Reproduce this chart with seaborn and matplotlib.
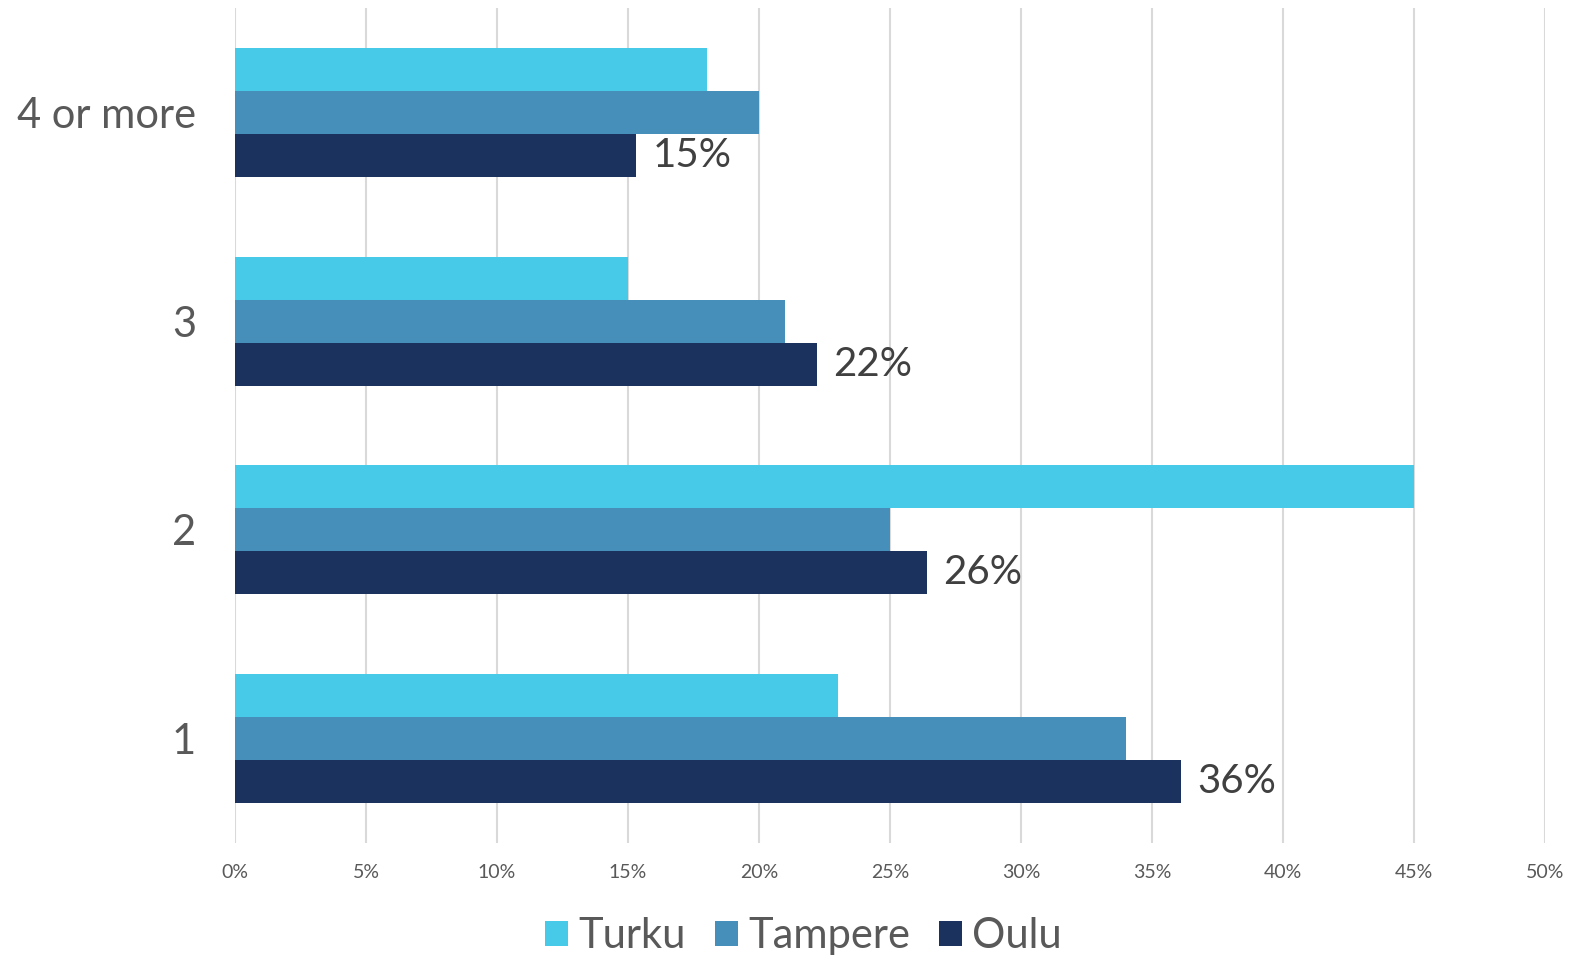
import matplotlib
matplotlib.use("Agg")
import matplotlib.pyplot as plt
import seaborn as sns
import pandas as pd
from matplotlib.patches import Patch

categories = ["4 or more", "3", "2", "1"]
series = ["Turku", "Tampere", "Oulu"]
turku = [18.0, 15.0, 45.0, 23.0]
tampere = [20.0, 21.0, 25.0, 34.0]
oulu = [15.3, 22.2, 26.4, 36.1]
xticks = [0, 5, 10, 15, 20, 25, 30, 35, 40, 45, 50]
colors = ["#46CAE8", "#468FBA", "#1B325F"]

rows = []
for name, vals in zip(series, [turku, tampere, oulu]):
    for c, v in zip(categories, vals):
        rows.append({"category": c, "city": name, "value": v})
df = pd.DataFrame(rows)

sns.set_theme(style="white")
plt.rcParams["font.family"] = ["Lato", "DejaVu Sans"]

fig = plt.figure(figsize=(15.91, 9.55), dpi=100)
bottom = 0.1173
top = 0.9916
ax = fig.add_axes([0.1477, bottom, 0.9711 - 0.1477, top - bottom])

sns.barplot(data=df, y="category", x="value", hue="city", order=categories,
            hue_order=series, palette=colors, orient="h", width=0.618,
            saturation=1, ax=ax, legend=False, edgecolor="none")

ax.set_xlim(0, 50)
ax.set_ylim(3.5, -0.5)
ax.set_xticks(xticks)
ax.set_xticklabels([f"{t}%" for t in xticks], fontsize=14, color="#595959")
ax.tick_params(axis="x", length=0, pad=15)
ax.tick_params(axis="y", length=0, pad=28, labelsize=30, labelcolor="#595959")
ax.set_xlabel("")
ax.set_ylabel("")
for s in ax.spines.values():
    s.set_visible(False)
ax.xaxis.grid(True, color="#D9D9D9", linewidth=1.5)
ax.set_axisbelow(True)

oulu_container = ax.containers[2]
ax.bar_label(oulu_container, labels=[f"{round(v)}%" for v in oulu],
             padding=12, fontsize=29, color="#404040")

handles = [Patch(facecolor=c, edgecolor="none") for c in colors]
fig.legend(handles, series, loc="center", bbox_to_anchor=(0.505, 0.02),
           ncol=3, frameon=False, fontsize=30, labelcolor="#595959",
           handlelength=0.55, handleheight=0.55, handletextpad=0.25,
           columnspacing=0.7)

fig.savefig("out.png", dpi=100)
